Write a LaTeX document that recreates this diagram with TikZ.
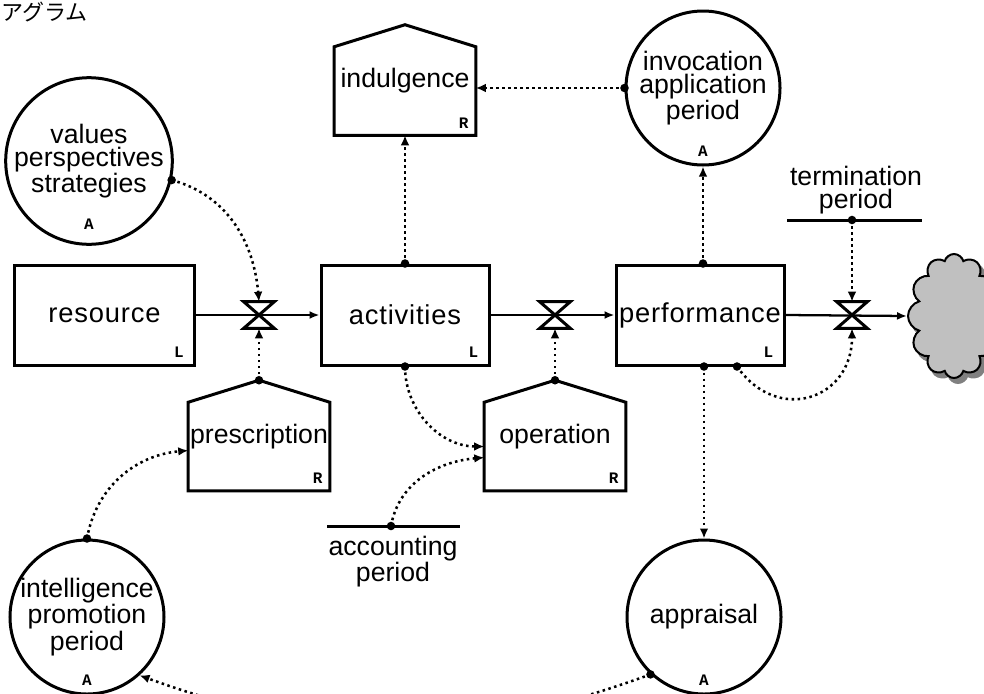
\documentclass[tikz,border=0pt]{standalone}
\usepackage{fontspec}
\setmainfont{Liberation Sans}
\setmonofont{Liberation Mono}
\newfontfamily\stockfont[LetterSpace=3]{Liberation Sans}
\newfontfamily\jpfont{Noto Sans CJK JP}
\usetikzlibrary{calc, arrows.meta, shapes.symbols}

\definecolor{cloudfill}{RGB}{192,192,192}
\definecolor{cloudshade}{RGB}{128,128,128}

\tikzset{
	stock/.style = {draw, line width=2.25pt, minimum width=126pt, minimum height=75pt, inner sep=0pt, font=\stockfont\fontsize{20.5}{17}\selectfont},
	rate/.style = {minimum width=105.75pt, minimum height=66pt, inner sep=0pt, text height=14.5pt, text depth=19.5pt, font=\fontsize{20}{17}\selectfont},
	aux/.style = {circle, draw, line width=2.25pt, minimum size=115.5pt, inner sep=0pt, align=center, font=\fontsize{20}{17.5}\selectfont},
	valve/.style = {minimum width=22.5pt, minimum height=19.5pt, inner sep=0pt},
	tag/.style = {inner sep=0pt, font=\ttfamily\bfseries\fontsize{12}{12}\selectfont},
	periodtext/.style = {inner sep=0pt, align=center, font=\fontsize{20}{17.5}\selectfont},
	flow/.style = {line width=1.7pt, -{Latex[length=7.5pt, width=6pt]}},
	link/.style = {line width=1.9pt, dash pattern=on 1.9pt off 2.6pt, -{Latex[length=7.5pt, width=6.5pt]}},
}

\begin{document}
\begin{tikzpicture}[x=0.75pt, y=0.75pt]
	\useasboundingbox (0,0) rectangle (984,-693);

	\node [anchor=base west, inner sep=0pt, font=\jpfont\fontsize{16.5}{16.5}\selectfont] (title) at (1,-20) {アグラム};

	\begin{scope}
		\node [stock, minimum width=135pt] (res) at (104.5,-315) {resource};
		\node [stock] (act) at (405,-315) {activities};
		\node [stock] (perf) at (700,-315) {performance};
		\foreach \s in {res, act, perf}
			\node [tag, anchor=south east] at ($(\s.south east)+(-12,9)$) {L};
	\end{scope}

	\begin{scope}
		\node [aux] (vps) at (89,-161) {values\\perspectives\\strategies};
		\node [aux] (iap) at (703,-88) {invocation\\application\\period};
		\node [aux] (ipp) at (87,-617) {intelligence\\promotion\\period};
		\node [aux] (appr) at (704,-617) {appraisal};
		\foreach \s in {vps, iap, ipp, appr}
			\node [tag] at ($(\s.center)+(0,-63)$) {A};
	\end{scope}

	\begin{scope}
		\node [rate] (indul) at (405,-91) {indulgence};
		\node [rate] (presc) at (259,-446.5) {prescription};
		\node [rate] (oper) at (555,-446.5) {operation};
		\foreach \s in {indul, presc, oper} {
			\draw [line width=2.25pt] (\s.south west) -- (\s.north west) -- ($(\s.north)+(0,22)$) coordinate (\s-top) -- (\s.north east) -- (\s.south east) -- cycle;
			\node [tag, anchor=south east] at ($(\s.south east)+(-7,7)$) {R};
		}
	\end{scope}

	\begin{scope}
		\coordinate (term) at (852,-220);
		\coordinate (acc) at (391,-526);
		\draw [line width=2.25pt] ($(term)+(-65,0)$) -- ($(term)+(70,0)$);
		\draw [line width=2.25pt] ($(acc)+(-64,0)$) -- ($(acc)+(69,0)$);
		\node [periodtext, above=4pt] (term-text) at ($(term)+(4,0)$) {termination\\period};
		\node [periodtext, below=7.5pt] (acc-text) at ($(acc)+(2,0)$) {accounting\\period};
	\end{scope}

	\begin{scope}
		\node [cloud, cloud puffs=12, cloud ignores aspect, minimum width=69pt, minimum height=93pt, fill=cloudshade, draw=cloudshade, line width=1.5pt] (sink-shade) at (958,-321) {};
		\node [cloud, cloud puffs=12, cloud ignores aspect, minimum width=69pt, minimum height=93pt, fill=cloudfill, draw, line width=1.5pt] (sink) at (954,-316) {};
		\node [valve] (v1) at (259,-315) {};
		\node [valve] (v2) at (555,-315) {};
		\node [valve] (v3) at (852,-315) {};
		\draw [flow] (res.east) -- (act.west);
		\draw [flow] (act.east) -- (perf.west);
		\draw [flow] (perf.east) -- (sink.west);
		\foreach \v in {v1, v2, v3}
			\filldraw [fill=white, line width=2.25pt] (\v.north west) -- (\v.north east) -- (\v.south west) -- (\v.south east) -- cycle;
	\end{scope}

	\coordinate (vps-out) at (vps.-13);
	\coordinate (perf-in) at (perf.north -| iap.south);
	\coordinate (perf-out) at ($(perf.south)+(37,0)$);
	\coordinate (perf-obs) at (perf.south -| appr.north);
	\coordinate (appr-out) at (appr.-133);

	\begin{scope}[link]
		\draw (vps-out) to [out=-15, in=95] (v1.north);
		\draw (presc-top) -- (v1.south);
		\draw (act.north) -- (indul.south);
		\draw (iap.west) -- (iap.west -| indul.east);
		\draw (perf-in) -- (iap.south);
		\draw (term) -- (v3.north);
		\draw (perf-out) to [out=-55, in=-90, looseness=1.5] (v3.south);
		\draw (oper-top) -- (v2.south);
		\draw (act.south) to [out=-90, in=180] (oper.west);
		\draw (acc) to [out=80, in=185] ($(oper.west)+(0,-11)$);
		\draw (perf-obs) -- (appr.north);
		\draw (ipp.north) to [out=80, in=185] ($(presc.west)+(0,-4)$);
		\draw (appr-out) to [out=-160, in=-20] (ipp.-48);
	\end{scope}

	\foreach \p in {vps-out, presc-top, act.north, iap.west, perf-in, term, perf-out, oper-top, act.south, acc, perf-obs, ipp.north, appr-out}
		\fill (\p) circle (3.2pt);
\end{tikzpicture}
\end{document}
